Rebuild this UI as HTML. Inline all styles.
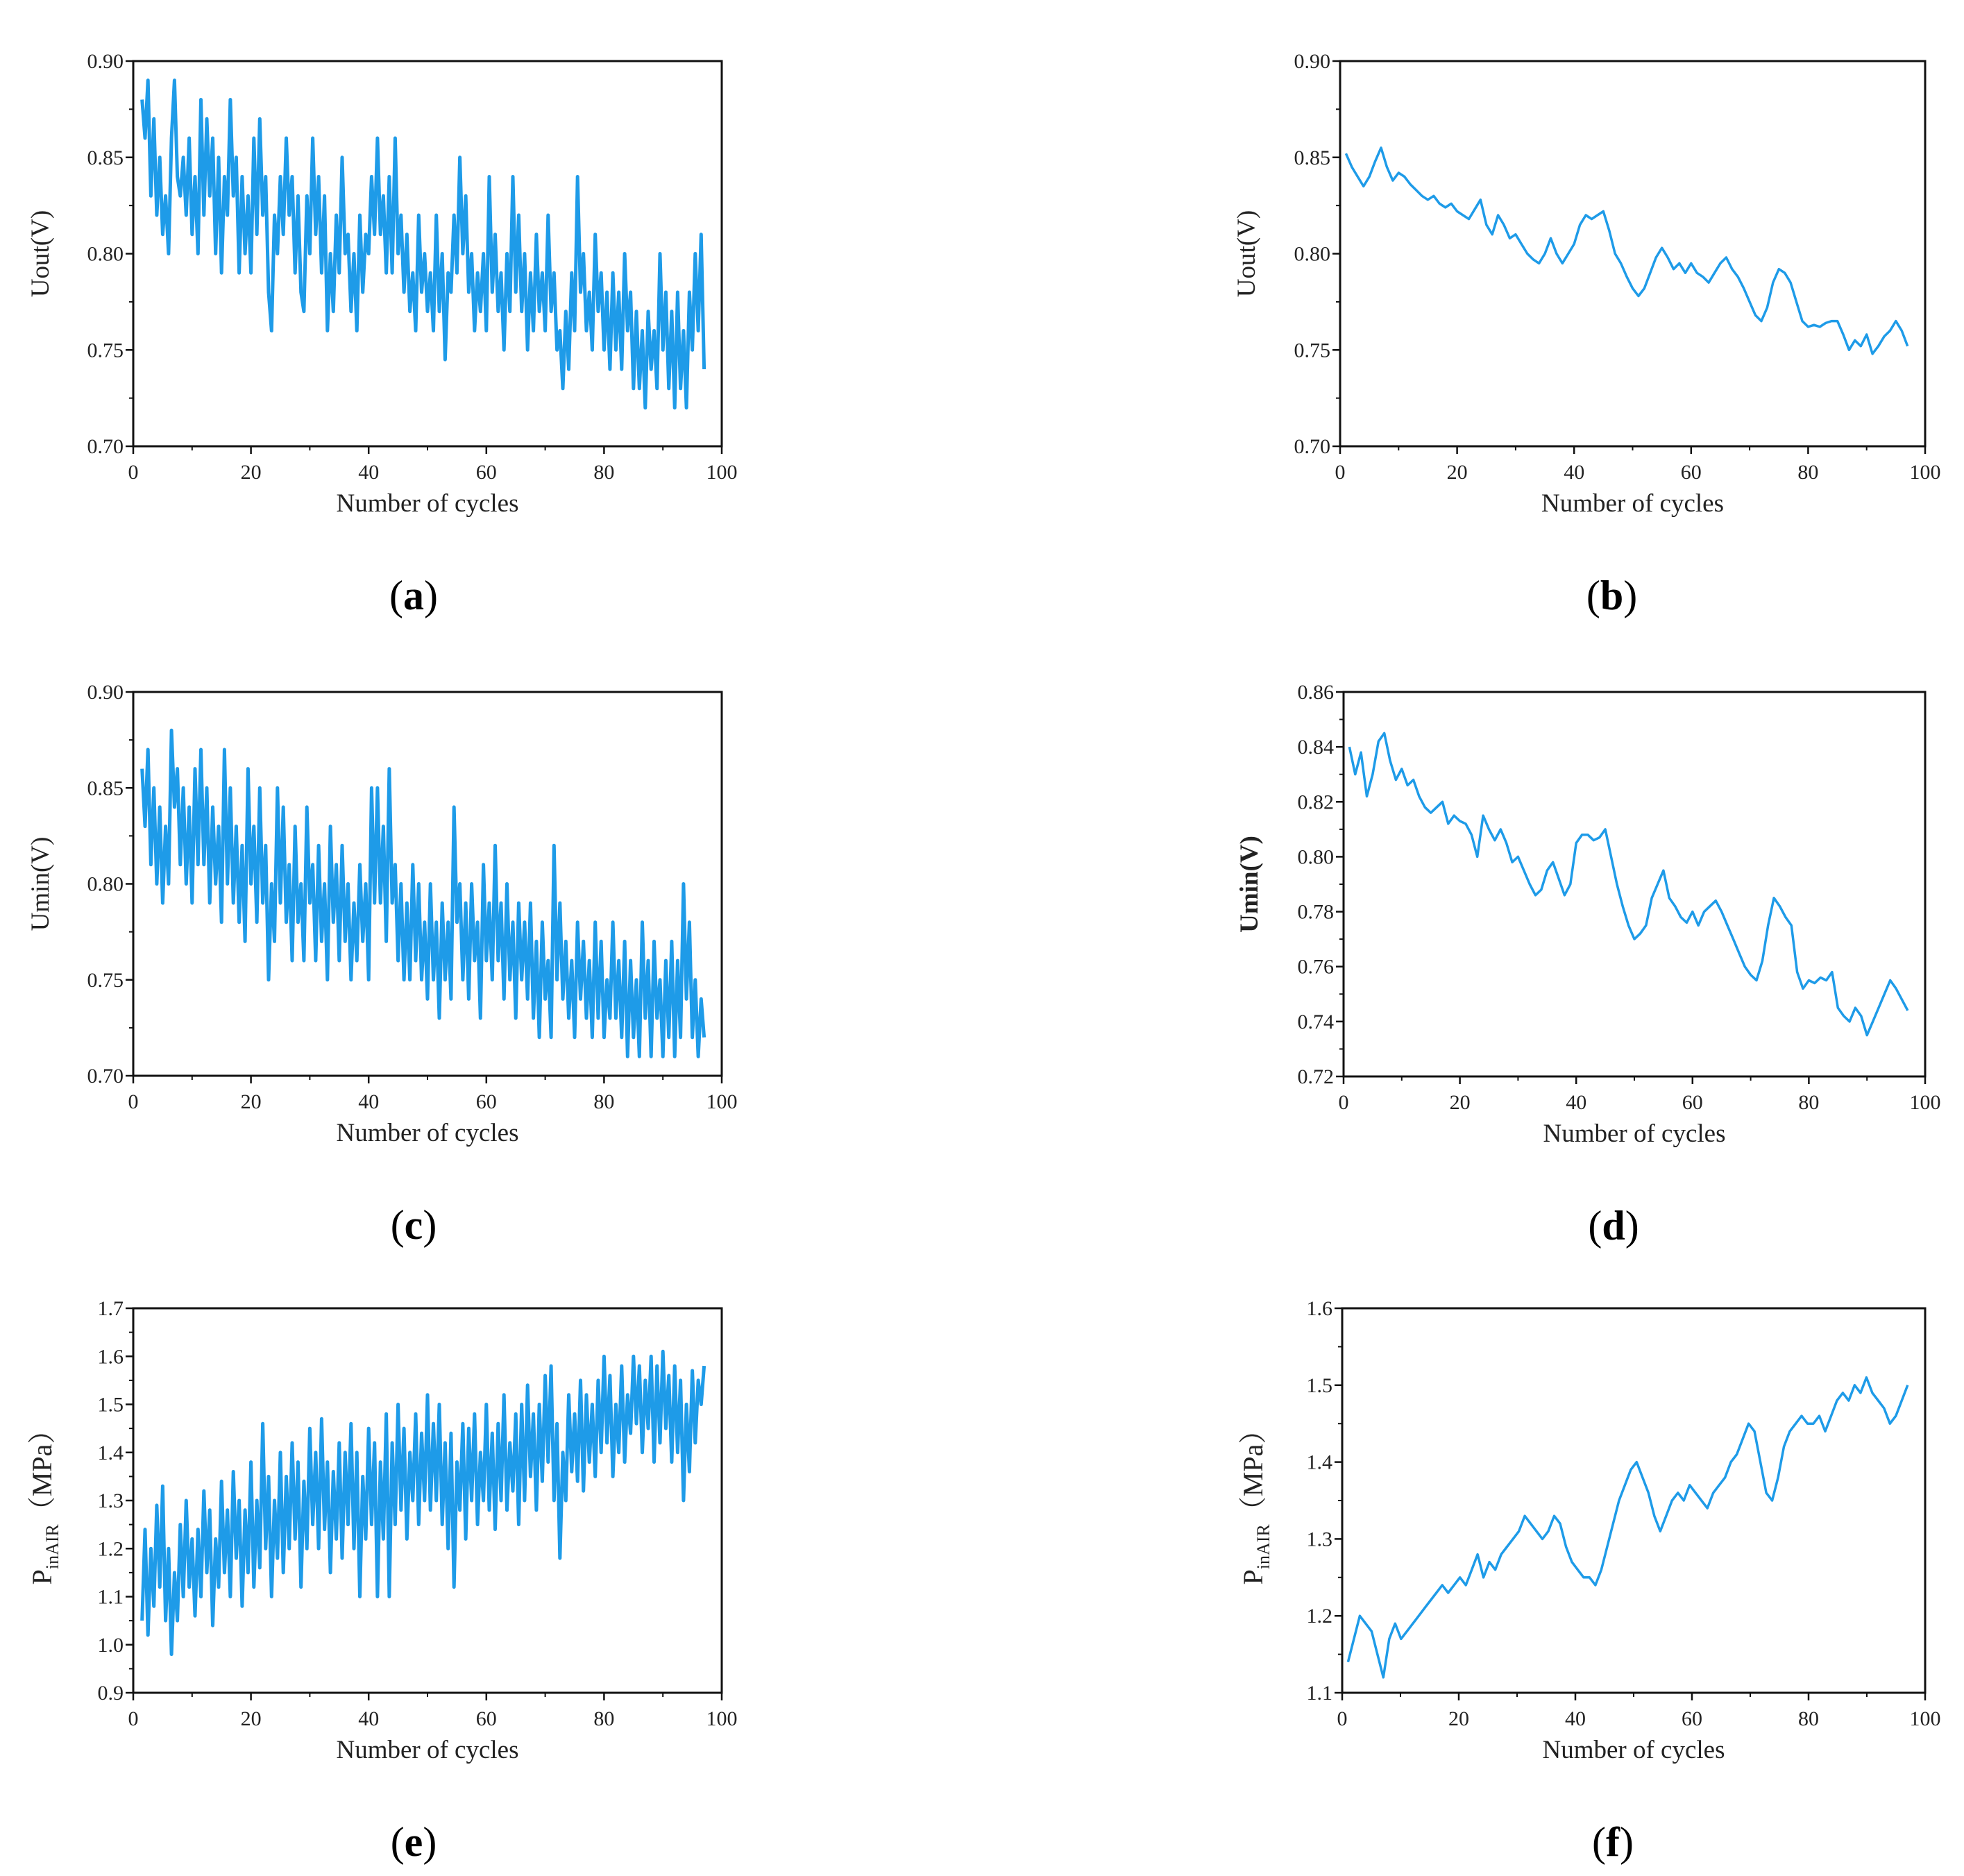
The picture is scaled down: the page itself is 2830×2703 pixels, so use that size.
<!DOCTYPE html>
<html><head><meta charset="utf-8">
<style>
html,body{margin:0;padding:0;background:#fff;}
svg{display:block;font-family:"Liberation Serif",serif;}
</style></head>
<body>
<svg id="fig" width="2830" height="2703" viewBox="0 0 2830 2703" xmlns="http://www.w3.org/2000/svg"></svg>
<script>
const xTicks = [0,20,40,60,80,100];
const seriesA = [0.88,0.86,0.89,0.83,0.87,0.82,0.85,0.81,0.83,0.80,
0.86,0.89,0.84,0.83,0.85,0.82,0.86,0.81,0.84,0.80,
0.88,0.82,0.87,0.83,0.86,0.80,0.85,0.79,0.84,0.82,
0.88,0.83,0.85,0.79,0.84,0.80,0.83,0.79,0.86,0.81,
0.87,0.82,0.84,0.78,0.76,0.82,0.80,0.84,0.81,0.86,
0.82,0.84,0.79,0.83,0.78,0.77,0.83,0.80,0.86,0.81,
0.84,0.79,0.83,0.76,0.80,0.77,0.82,0.79,0.85,0.80,
0.81,0.77,0.80,0.76,0.82,0.78,0.81,0.80,0.84,0.81,
0.86,0.81,0.83,0.79,0.84,0.79,0.86,0.80,0.82,0.78,
0.81,0.77,0.79,0.76,0.82,0.78,0.80,0.77,0.79,0.76,
0.82,0.77,0.80,0.745,0.79,0.78,0.82,0.79,0.85,0.80,
0.83,0.78,0.80,0.76,0.79,0.77,0.80,0.76,0.84,0.78,
0.81,0.77,0.79,0.75,0.80,0.77,0.84,0.78,0.82,0.77,
0.80,0.75,0.79,0.76,0.81,0.77,0.79,0.76,0.82,0.77,
0.79,0.75,0.76,0.73,0.77,0.74,0.79,0.76,0.84,0.78,
0.80,0.76,0.78,0.75,0.81,0.77,0.79,0.75,0.78,0.74,
0.79,0.75,0.78,0.74,0.80,0.76,0.78,0.73,0.77,0.73,
0.76,0.72,0.77,0.74,0.76,0.73,0.80,0.75,0.78,0.73,
0.77,0.72,0.78,0.73,0.76,0.72,0.78,0.75,0.80,0.76,
0.81,0.74];
const seriesB = [0.852,0.845,0.84,0.835,0.84,0.848,0.855,0.845,0.838,0.842,0.84,0.836,0.833,0.83,0.828,0.83,0.826,0.824,0.826,0.822,0.82,0.818,0.823,0.828,0.815,0.81,0.82,0.815,0.808,0.81,0.805,0.80,0.797,0.795,0.80,0.808,0.80,0.795,0.80,0.805,0.815,0.82,0.818,0.82,0.822,0.812,0.80,0.795,0.788,0.782,0.778,0.782,0.79,0.798,0.803,0.798,0.792,0.795,0.79,0.795,0.79,0.788,0.785,0.79,0.795,0.798,0.792,0.788,0.782,0.775,0.768,0.765,0.772,0.785,0.792,0.79,0.785,0.775,0.765,0.762,0.763,0.762,0.764,0.765,0.765,0.758,0.75,0.755,0.752,0.758,0.748,0.752,0.757,0.76,0.765,0.76,0.752];
const seriesC = [0.86,0.83,0.87,0.81,0.85,0.80,0.84,0.79,0.83,0.80,
0.88,0.84,0.86,0.81,0.85,0.80,0.84,0.79,0.86,0.81,
0.87,0.81,0.85,0.79,0.84,0.80,0.83,0.78,0.87,0.80,
0.85,0.79,0.83,0.78,0.82,0.77,0.86,0.80,0.83,0.78,
0.85,0.79,0.82,0.75,0.80,0.77,0.85,0.79,0.84,0.78,
0.81,0.76,0.83,0.78,0.80,0.76,0.84,0.79,0.81,0.76,
0.82,0.77,0.80,0.75,0.83,0.78,0.81,0.76,0.82,0.77,
0.80,0.75,0.79,0.76,0.81,0.77,0.80,0.75,0.85,0.79,
0.85,0.79,0.83,0.77,0.86,0.79,0.81,0.76,0.80,0.75,
0.79,0.75,0.81,0.76,0.80,0.75,0.78,0.74,0.80,0.75,
0.78,0.73,0.79,0.75,0.78,0.74,0.84,0.78,0.80,0.75,
0.79,0.74,0.80,0.76,0.78,0.73,0.81,0.76,0.79,0.75,
0.82,0.76,0.79,0.74,0.80,0.75,0.78,0.73,0.79,0.75,
0.78,0.74,0.79,0.73,0.77,0.72,0.78,0.74,0.76,0.72,
0.82,0.75,0.79,0.74,0.77,0.73,0.76,0.72,0.78,0.74,
0.77,0.73,0.76,0.72,0.78,0.73,0.77,0.72,0.75,0.73,
0.78,0.73,0.76,0.72,0.77,0.71,0.76,0.72,0.75,0.71,
0.78,0.73,0.76,0.71,0.77,0.73,0.75,0.71,0.76,0.72,
0.77,0.71,0.76,0.72,0.80,0.74,0.78,0.72,0.75,0.71,
0.74,0.72];
const seriesD = [0.84,0.83,0.838,0.822,0.83,0.842,0.845,0.835,0.828,0.832,0.826,0.828,0.822,0.818,0.816,0.818,0.82,0.812,0.815,0.813,0.812,0.808,0.80,0.815,0.81,0.806,0.81,0.805,0.798,0.80,0.795,0.79,0.786,0.788,0.795,0.798,0.792,0.786,0.79,0.805,0.808,0.808,0.806,0.807,0.81,0.80,0.79,0.782,0.775,0.77,0.772,0.775,0.785,0.79,0.795,0.785,0.782,0.778,0.776,0.78,0.775,0.78,0.782,0.784,0.78,0.775,0.77,0.765,0.76,0.757,0.755,0.762,0.775,0.785,0.782,0.778,0.775,0.758,0.752,0.755,0.754,0.756,0.755,0.758,0.745,0.742,0.74,0.745,0.742,0.735,0.74,0.745,0.75,0.755,0.752,0.748,0.744];
const seriesE = [1.05,1.24,1.02,1.20,1.08,1.29,1.12,1.33,1.05,1.20,
0.98,1.15,1.05,1.25,1.10,1.30,1.12,1.22,1.06,1.24,
1.10,1.32,1.15,1.28,1.04,1.22,1.12,1.34,1.15,1.28,
1.10,1.36,1.18,1.30,1.08,1.28,1.15,1.38,1.12,1.30,
1.16,1.46,1.20,1.35,1.10,1.30,1.18,1.40,1.15,1.35,
1.20,1.42,1.22,1.38,1.12,1.34,1.20,1.45,1.25,1.40,
1.20,1.47,1.24,1.38,1.15,1.36,1.22,1.42,1.18,1.40,
1.25,1.46,1.20,1.40,1.10,1.35,1.22,1.45,1.25,1.42,
1.10,1.38,1.22,1.48,1.10,1.42,1.25,1.50,1.28,1.45,
1.22,1.40,1.30,1.48,1.25,1.44,1.30,1.52,1.28,1.46,
1.30,1.50,1.25,1.42,1.20,1.44,1.12,1.38,1.28,1.46,
1.22,1.45,1.30,1.48,1.25,1.40,1.30,1.50,1.28,1.44,
1.24,1.46,1.30,1.52,1.28,1.42,1.32,1.48,1.25,1.50,
1.30,1.54,1.35,1.48,1.28,1.50,1.34,1.56,1.38,1.58,
1.30,1.46,1.18,1.40,1.30,1.52,1.36,1.48,1.34,1.55,
1.32,1.52,1.38,1.50,1.35,1.55,1.40,1.60,1.42,1.56,
1.35,1.50,1.40,1.58,1.38,1.52,1.44,1.60,1.46,1.58,
1.40,1.55,1.45,1.60,1.38,1.58,1.42,1.61,1.45,1.56,
1.38,1.58,1.40,1.55,1.30,1.50,1.36,1.57,1.42,1.55,
1.50,1.58];
const seriesF = [1.14,1.17,1.20,1.19,1.18,1.15,1.12,1.17,1.19,1.17,1.18,1.19,1.20,1.21,1.22,1.23,1.24,1.23,1.24,1.25,1.24,1.26,1.28,1.25,1.27,1.26,1.28,1.29,1.30,1.31,1.33,1.32,1.31,1.30,1.31,1.33,1.32,1.29,1.27,1.26,1.25,1.25,1.24,1.26,1.29,1.32,1.35,1.37,1.39,1.40,1.38,1.36,1.33,1.31,1.33,1.35,1.36,1.35,1.37,1.36,1.35,1.34,1.36,1.37,1.38,1.40,1.41,1.43,1.45,1.44,1.40,1.36,1.35,1.38,1.42,1.44,1.45,1.46,1.45,1.45,1.46,1.44,1.46,1.48,1.49,1.48,1.50,1.49,1.51,1.49,1.48,1.47,1.45,1.46,1.48,1.50];
const yTicksABC = ["0.70","0.75","0.80","0.85","0.90"];
const yTicksD = ["0.72","0.74","0.76","0.78","0.80","0.82","0.84","0.86"];
const yTicksE = ["0.9","1.0","1.1","1.2","1.3","1.4","1.5","1.6","1.7"];
const yTicksF = ["1.1","1.2","1.3","1.4","1.5","1.6"];

const NS = "http://www.w3.org/2000/svg";
const svg = document.getElementById('fig');
function mk(tag, attrs, parent){
  const e = document.createElementNS(NS, tag);
  for (const k in attrs) e.setAttribute(k, attrs[k]);
  (parent||svg).appendChild(e);
  return e;
}
const panels = [
  {id:'a', L:192, R:1040, T:88, B:643, data:seriesA, x0:1.5, x1:97, ticks:yTicksABC, title:'Uout(V)', sub:false, tx:70, bold:false, sw:5},
  {id:'b', L:1931, R:2774, T:88, B:643, data:seriesB, x0:1, x1:97, ticks:yTicksABC, title:'Uout(V)', sub:false, tx:1808, bold:false, sw:3.5},
  {id:'c', L:192, R:1040, T:997, B:1550, data:seriesC, x0:1.5, x1:97, ticks:yTicksABC, title:'Umin(V)', sub:false, tx:70, bold:false, sw:5},
  {id:'d', L:1936, R:2774, T:997, B:1551, data:seriesD, x0:1, x1:97, ticks:yTicksD, title:'Umin(V)', sub:false, tx:1812, bold:true, sw:3.5},
  {id:'e', L:192, R:1040, T:1885, B:2439, data:seriesE, x0:1.5, x1:97, ticks:yTicksE, title:'P', sub:true, tx:70, bold:false, sw:5},
  {id:'f', L:1934, R:2774, T:1885, B:2439, data:seriesF, x0:1, x1:97, ticks:yTicksF, title:'P', sub:true, tx:1815, bold:false, sw:3.5}
];
panels.forEach(p=>{
  const g = mk('g', {});
  
  
  const ymin = parseFloat(p.ticks[0]), ymax = parseFloat(p.ticks[p.ticks.length-1]);
  const xs = v => p.L + (v-0)/(100-0)*(p.R-p.L);
  const ys = v => p.B - (v-ymin)/(ymax-ymin)*(p.B-p.T);
  const n = p.data.length;
  let d = '';
  p.data.forEach((v,i)=>{
    const xv = p.x0 + i*(p.x1-p.x0)/(n-1);
    d += (i?'L':'M') + xs(xv).toFixed(1) + ',' + ys(v).toFixed(1);
  });
  const line = mk('path', {d:d, fill:'none', stroke:'#1e9be8', 'stroke-width': p.sw, 'stroke-linejoin':'round'}, g);
  
  
  const fr = mk('rect', {x:p.L, y:p.T, width:p.R-p.L, height:p.B-p.T, fill:'none', stroke:'#111', 'stroke-width':3}, g);
  
  
  xTicks.forEach((t,i)=>{
    const x = xs(t);
    mk('line', {x1:x, x2:x, y1:p.B, y2:p.B+11, stroke:'#111','stroke-width':2.5}, g);
    if (i < xTicks.length-1){
      const xm = xs(t+10);
      mk('line', {x1:xm, x2:xm, y1:p.B, y2:p.B+6, stroke:'#111','stroke-width':2}, g);
    }
    const tl = mk('text', {x:x, y:p.B+47, 'text-anchor':'middle', 'font-size':30, fill:'#222'}, g);
    tl.textContent = t;
    
    
  });
  const step = (ymax-ymin)/(p.ticks.length-1);
  p.ticks.forEach((t,i)=>{
    const v = parseFloat(t);
    const y = ys(v);
    mk('line', {x1:p.L-11, x2:p.L, y1:y, y2:y, stroke:'#111','stroke-width':2.5}, g);
    if (i < p.ticks.length-1){
      const ym = ys(v+step/2);
      mk('line', {x1:p.L-6, x2:p.L, y1:ym, y2:ym, stroke:'#111','stroke-width':2}, g);
    }
    const tl = mk('text', {x:p.L-14, y:y+10, 'text-anchor':'end', 'font-size':30, fill:'#222'}, g);
    tl.textContent = t;
    
    
  });
  const xt = mk('text', {x:(p.L+p.R)/2, y:p.B+94, 'text-anchor':'middle', 'font-size':37, fill:'#222'}, g);
  xt.textContent = 'Number of cycles';
  
  
  const cy = (p.T+p.B)/2;
  const yt = mk('text', {x:p.tx, y:cy, 'text-anchor':'middle', 'font-size':37, fill:'#222', transform:'rotate(-90 '+p.tx+' '+cy+')', 'font-weight': p.bold?'bold':'normal'}, g);
  
  
  if (p.sub){
    yt.setAttribute('font-size', 40);
    yt.setAttribute('y', cy+4);
    const t1 = mk('tspan', {}, yt); t1.textContent = 'P';
    const t2 = mk('tspan', {'font-size':26, dy:10}, yt); t2.textContent = 'inAIR';
    const t3 = mk('tspan', {dy:-10, 'font-family':'"Liberation Serif","Noto Serif CJK SC",serif'}, yt); t3.textContent = '（MPa）';
  } else {
    yt.textContent = p.title;
  }
  const pl = mk('text', {x:(p.L+p.R)/2 - (p.id==='a'||p.id==='c'||p.id==='e'?20:30), y:p.B+235, 'text-anchor':'middle', 'font-size':60, fill:'#000'}, g);
  
  
  const a1 = mk('tspan', {}, pl); a1.textContent = '(';
  const a2 = mk('tspan', {'font-weight':'bold'}, pl); a2.textContent = p.id;
  const a3 = mk('tspan', {}, pl); a3.textContent = ')';
});
</script>
</body></html>
